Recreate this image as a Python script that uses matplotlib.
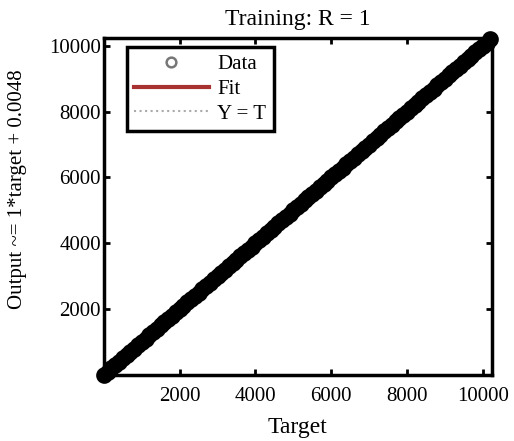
import numpy as np
import matplotlib.pyplot as plt
from matplotlib.lines import Line2D

plt.rcParams['font.family'] = ['Liberation Serif', 'DejaVu Serif']

# training targets (dense along the full range) and network outputs
target = [0, 100, 200, 300, 400, 500, 600, 700, 800, 900,
          1000, 1100, 1200, 1300, 1400, 1500, 1600, 1700, 1800, 1900,
          2000, 2100, 2200, 2300, 2400, 2500, 2600, 2700, 2800, 2900,
          3000, 3100, 3200, 3300, 3400, 3500, 3600, 3700, 3800, 3900,
          4000, 4100, 4200, 4300, 4400, 4500, 4600, 4700, 4800, 4900,
          5000, 5100, 5200, 5300, 5400, 5500, 5600, 5700, 5800, 5900,
          6000, 6100, 6200, 6300, 6400, 6500, 6600, 6700, 6800, 6900,
          7000, 7100, 7200, 7300, 7400, 7500, 7600, 7700, 7800, 7900,
          8000, 8100, 8200, 8300, 8400, 8500, 8600, 8700, 8800, 8900,
          9000, 9100, 9200, 9300, 9400, 9500, 9600, 9700, 9800, 9900,
          10000, 10100, 10200]
slope = 1.0
intercept = 0.0048
output = [slope * t + intercept for t in target]

xticks = [2000, 4000, 6000, 8000, 10000]
yticks = [2000, 4000, 6000, 8000, 10000]

fig = plt.figure(figsize=(5.14, 4.41), dpi=100)
ax = fig.add_axes([0.202, 0.150, 0.755, 0.764])

lim = (0, 10240)
t_line = np.array(lim)
ax.plot(t_line, t_line, linestyle=':', color='#aaaaaa', linewidth=1)
ax.plot(t_line, slope * t_line + intercept, color='#a83232', linewidth=2)
ax.plot(target, output, 'o', markersize=8, markerfacecolor='none',
        markeredgecolor='black', markeredgewidth=4, clip_on=False)

ax.set_xlim(lim)
ax.set_ylim(lim)
ax.set_xticks(xticks)
ax.set_yticks(yticks)
ax.tick_params(direction='in', top=True, right=True, labelsize=15,
               length=4, width=2, pad=2)
ax.tick_params(axis='x', pad=9)
for s in ax.spines.values():
    s.set_linewidth(2.5)

ax.set_title('Training: R = 1', fontsize=17, pad=9)
ax.set_xlabel('Target', fontsize=17, labelpad=8)
ax.set_ylabel('Output ~= 1*target + 0.0048', fontsize=15)
ax.yaxis.set_label_coords(-0.197, 0.55)

handles = [
    Line2D([], [], linestyle='none', marker='o', markersize=7,
           markerfacecolor='none', markeredgecolor='#777777', markeredgewidth=1.8),
    Line2D([], [], color='#a83232', linewidth=3),
    Line2D([], [], color='#aaaaaa', linestyle=':', linewidth=1.5),
]
leg = ax.legend(handles, ['Data', 'Fit', 'Y = T'], loc='upper left',
                bbox_to_anchor=(0.032, 1.003), fontsize=15, fancybox=False,
                framealpha=1, edgecolor='black', handlelength=3.6,
                borderpad=0.35, labelspacing=0.25, handletextpad=0.4)
leg.get_frame().set_linewidth(2.5)

fig.savefig('out.png', dpi=100)
